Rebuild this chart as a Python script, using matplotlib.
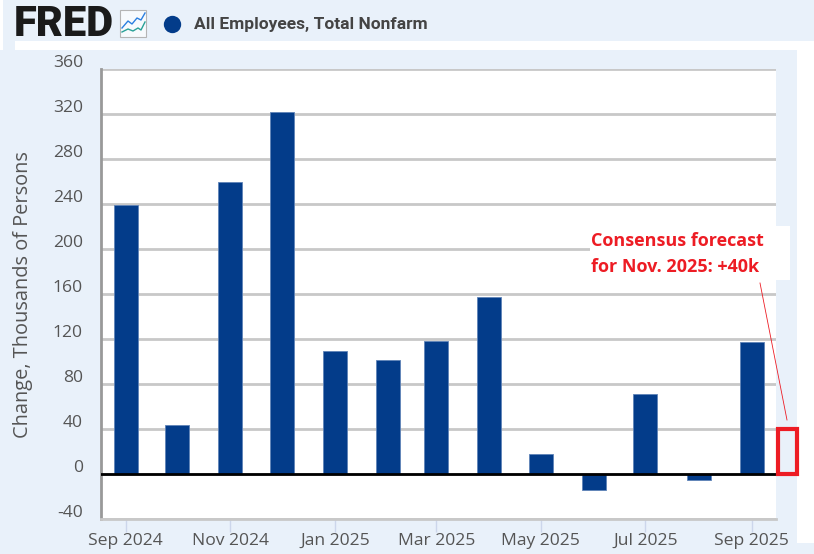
import matplotlib
matplotlib.use('Agg')
import matplotlib.pyplot as plt
import matplotlib.transforms as mtrans
from matplotlib.patches import Rectangle
from datetime import datetime, timedelta

plt.rcParams['font.family'] = ['Open Sans', 'DejaVu Sans']
plt.rcParams['axes.unicode_minus'] = False

months = ['2024-09', '2024-10', '2024-11', '2024-12', '2025-01', '2025-02', '2025-03',
          '2025-04', '2025-05', '2025-06', '2025-07', '2025-08', '2025-09']
changes = [239, 44, 260, 322, 109, 101, 118, 157, 18, -14, 71, -5, 117]
yticks = [-40, 0, 40, 80, 120, 160, 200, 240, 280, 320, 360]
tick_months = ['2024-09', '2024-11', '2025-01', '2025-03', '2025-05', '2025-07', '2025-09']
tick_labels = ['Sep 2024', 'Nov 2024', 'Jan 2025', 'Mar 2025', 'May 2025', 'Jul 2025', 'Sep 2025']
forecast = 40
series_name = 'All Employees, Total Nonfarm'
note = 'Consensus forecast\nfor Nov. 2025: +40k'

W, H = 814, 554
BG = '#e9f1fa'
NAVY = '#033c8a'
RED = '#ed1c24'

def to_date(m):
    return datetime.strptime(m, '%Y-%m')

def fx(x):
    return x / W

def fy(y):
    return 1 - y / H

def px_box(x0, y0, x1, y1, color, z=0):
    fig.add_artist(Rectangle((fx(x0), fy(y1)), (x1 - x0) / W, (y1 - y0) / H, transform=fig.transFigure,
                             facecolor=color, edgecolor='none', zorder=z))

fig = plt.figure(figsize=(W / 100, H / 100), dpi=100, facecolor=BG)

# white bits of the screenshot around the chart
px_box(0, 0, 3, 50, 'white')
px_box(15, 41, 797, 50, 'white')
px_box(797, 41, W, 543, 'white')

ax = fig.add_axes([fx(101), fy(519), (776 - 101) / W, (519 - 69) / H])
ax.set_facecolor('white')
dates = [to_date(m) for m in months]
ax.bar(dates, changes, width=14, color=NAVY, edgecolor='#5f83b8', linewidth=0.6, zorder=3)
ax.axhline(0, color='black', lw=2, zorder=4)

ax.set_xlim(to_date(months[0]) - timedelta(days=14.5), to_date(months[-1]) + timedelta(days=14.1))
ax.set_ylim(-40, 360)
ax.set_yticks(yticks)
ax.set_xticks([to_date(m) for m in tick_months])
ax.set_xticklabels(tick_labels)
ax.grid(axis='y', color='#c8c8c8', lw=2, zorder=1)
ax.set_axisbelow(True)
ax.tick_params(axis='y', length=0, pad=13, labelsize=12.6, labelcolor='#555555')
ax.tick_params(axis='x', length=9, width=1, color='#ccd6eb', pad=1, labelsize=12.6, labelcolor='#555555')
for s in ['top', 'right']:
    ax.spines[s].set_visible(False)
ax.spines['left'].set_color('#999999')
ax.spines['left'].set_linewidth(2)
ax.spines['bottom'].set_color('#c8c8c8')
ax.spines['bottom'].set_linewidth(2)
# y labels sit above their gridlines in the original
lift = mtrans.ScaledTranslation(0, 8 / 100, fig.dpi_scale_trans)
for lab in ax.get_yticklabels():
    lab.set_transform(lab.get_transform() + lift)
fig.text(fx(23), fy(295), 'Change, Thousands of Persons', rotation=90, ha='center', va='center',
         fontsize=14.4, color='#555555')

# forecast box sits just past the plot edge
box_x = to_date(months[-1]) + timedelta(days=21)
ax.bar([box_x], [forecast], width=11, facecolor=BG, edgecolor=RED, linewidth=3, clip_on=False, zorder=6)

# annotation
px_box(590, 226, 790, 280, 'white', z=5)
fig.text(fx(591), fy(254), note, ha='left', va='center', fontsize=13, fontweight='bold',
         color=RED, linespacing=1.55, zorder=7)
fig.add_artist(plt.Line2D([fx(760), fx(787)], [fy(283), fy(420)], color=RED, lw=0.6, zorder=7))

# header
fig.text(fx(14), fy(24), 'FRED', fontsize=30, fontweight='black', family=['Roboto', 'DejaVu Sans'],
         color='#1a1a1a', ha='left', va='center')
fig.add_artist(Rectangle((fx(120), fy(37)), 26 / W, 27 / H, transform=fig.transFigure, facecolor='#f7fafd',
                         edgecolor='#b5b5b5', lw=0.8))
fig.add_artist(plt.Line2D([fx(v) for v in (122, 128, 132, 137, 141, 145)],
                          [fy(v) for v in (28, 21, 24, 18, 20, 13)], color='#2b7fe0', lw=1))
fig.add_artist(plt.Line2D([fx(v) for v in (122, 128, 133, 138, 141, 145)],
                          [fy(v) for v in (32, 29, 31, 28, 30, 22)], color='#2aa198', lw=1))
fig.add_artist(plt.Line2D([fx(172)], [fy(24)], marker='o', ms=12.5, color=NAVY, mew=0))
fig.text(fx(194), fy(24), series_name, fontsize=12.5, fontweight='bold', family=['Roboto', 'DejaVu Sans'],
         color='#444444', ha='left', va='center')

fig.savefig('out.png', dpi=100, facecolor=fig.get_facecolor())
